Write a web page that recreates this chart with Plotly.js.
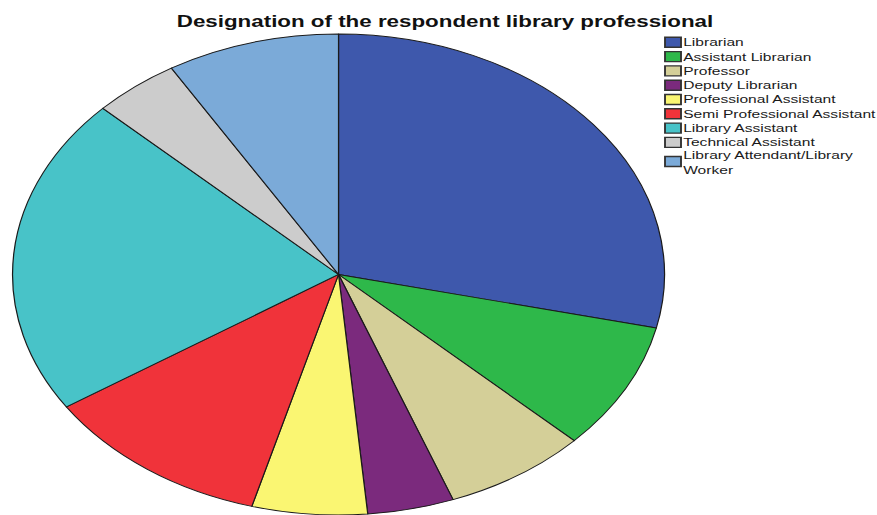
<!DOCTYPE html>
<html><head><meta charset="utf-8">
<script src="https://cdn.plot.ly/plotly-3.0.1.min.js"></script>
<style>
html,body{margin:0;padding:0;background:#fff;overflow:hidden}
#wrap{width:877px;height:515px;overflow:hidden}
#chart{width:647px;height:515px;transform:scaleX(1.3555);transform-origin:0 0}
</style>
</head><body><div id="wrap"><div id="chart"></div></div>
<script>
const categories = ["Librarian","Assistant Librarian","Professor","Deputy Librarian","Professional Assistant","Semi Professional Assistant","Library Assistant","Technical Assistant","Library Attendant/Library Worker"];
const counts = [20,6,5,3,4,8,15,3,6];
const colors = ["#3E58AC","#2EB84A","#D4CF98","#7B2A7D","#FAF672","#F0333A","#48C3C8","#CCCCCC","#7BAAD8"];
const legendLabels = categories.map(c => c.replace("/Library ", "/Library<br>"));

const W = 647, H = 515;
const font = "'Liberation Sans', Arial, sans-serif";

const shapes = [], annotations = [];
const sqX0 = 490.6, sqX1 = 502.4, txtX = 503.2;
categories.forEach((c, i) => {
  const yc = i < 8 ? 42.3 + i * 14.3 : 161.5;
  shapes.push({type:"rect", xref:"paper", yref:"paper",
    x0: sqX0 / W, x1: sqX1 / W, y0: 1 - (yc - 5) / H, y1: 1 - (yc + 5) / H,
    fillcolor: colors[i], line:{color:"#333333", width:1.4}});
  annotations.push({xref:"paper", yref:"paper", x: txtX / W, y: 1 - (i < 8 ? yc : yc + 0.5) / H,
    xanchor:"left", yanchor:"middle", showarrow:false, align:"left",
    text: legendLabels[i], font:{family:font, size:11.5, color:"#1a1a1a"}, borderpad:0});
});

const data = [{
  type:"pie", labels: categories, values: counts, sort:false, direction:"clockwise", rotation:0,
  marker:{colors: colors, line:{color:"#1a1a1a", width:0.9}},
  textinfo:"none", hoverinfo:"label+value+percent",
  domain:{x:[0.0143, 0.7577], y:[0, 0.934]}, showlegend:false
}];

const layout = {
  width: W, height: H, margin:{l:0, r:0, t:0, b:0},
  paper_bgcolor:"#ffffff", showlegend:false,
  title:{text:"<b>Designation of the respondent library professional</b>",
    x: 328.3 / W, xanchor:"center", xref:"paper", y: 1 - 21 / H, yanchor:"middle", yref:"container",
    font:{family:font, size:16.5, color:"#111111"}},
  shapes: shapes, annotations: annotations
};

Plotly.newPlot("chart", data, layout, {displayModeBar:false, staticPlot:true});
</script>
</body></html>
